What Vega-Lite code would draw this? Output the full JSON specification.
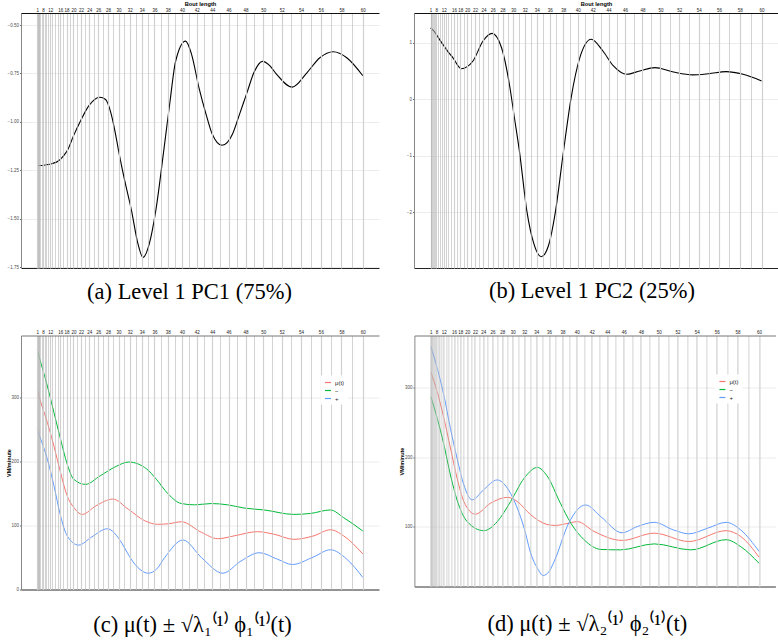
{
  "$schema": "https://vega.github.io/schema/vega-lite/v6.json",
  "padding": 0,
  "background": "white",
  "config": {
    "view": {"stroke": null},
    "font": "Liberation Sans",
    "title": {"font": "Liberation Serif", "fontSize": 22.5, "fontWeight": "normal", "orient": "bottom", "anchor": "middle", "frame": "bounds", "color": "black"},
    "axis": {"labelFont": "Liberation Sans", "titleFont": "Liberation Sans"}
  },
  "datasets": {
    "a": [
      {"t":1,"v":-1.226},{"t":6,"v":-1.226},{"t":10,"v":-1.222},{"t":13,"v":-1.215},{"t":15,"v":-1.205},{"t":17,"v":-1.177},{"t":18.5,"v":-1.14},{"t":20,"v":-1.074},{"t":22,"v":-0.99},{"t":24,"v":-0.914},{"t":26.3,"v":-0.873},{"t":27.5,"v":-0.885},{"t":28.5,"v":-0.95},{"t":29.3,"v":-1.045},{"t":30,"v":-1.15},{"t":31,"v":-1.29},{"t":32.3,"v":-1.46},{"t":33.3,"v":-1.62},{"t":34.2,"v":-1.70},{"t":35.2,"v":-1.63},{"t":36.2,"v":-1.46},{"t":37.4,"v":-1.15},{"t":38.3,"v":-0.90},{"t":39.1,"v":-0.69},{"t":40.5,"v":-0.583},{"t":41.3,"v":-0.65},{"t":42.3,"v":-0.826},{"t":43.2,"v":-0.96},{"t":44,"v":-1.064},{"t":45.2,"v":-1.121},{"t":46.5,"v":-1.06},{"t":47.3,"v":-0.96},{"t":48.1,"v":-0.857},{"t":49,"v":-0.74},{"t":49.9,"v":-0.688},{"t":50.7,"v":-0.71},{"t":51.4,"v":-0.752},{"t":53.1,"v":-0.821},{"t":54.6,"v":-0.747},{"t":55.9,"v":-0.669},{"t":57.2,"v":-0.638},{"t":58.5,"v":-0.669},{"t":60,"v":-0.762}
    ],
    "b": [
      {"t":1,"v":1.26},{"t":6,"v":1.21},{"t":9,"v":1.10},{"t":11.6,"v":0.97},{"t":14,"v":0.83},{"t":15.6,"v":0.735},{"t":18.3,"v":0.54},{"t":21.5,"v":0.676},{"t":23.9,"v":1.03},{"t":25.9,"v":1.166},{"t":27.8,"v":0.91},{"t":29.3,"v":0.26},{"t":30.2,"v":-0.32},{"t":31.1,"v":-0.92},{"t":32.4,"v":-2.0},{"t":33.5,"v":-2.55},{"t":34.7,"v":-2.79},{"t":35.8,"v":-2.6},{"t":36.85,"v":-2.0},{"t":38,"v":-0.95},{"t":39.1,"v":0.02},{"t":40.3,"v":0.735},{"t":41.8,"v":1.06},{"t":43.3,"v":0.853},{"t":44.6,"v":0.588},{"t":46.2,"v":0.44},{"t":47.7,"v":0.5},{"t":49.4,"v":0.558},{"t":51.4,"v":0.48},{"t":53.4,"v":0.43},{"t":55,"v":0.45},{"t":56.7,"v":0.487},{"t":58.3,"v":0.44},{"t":60,"v":0.322}
    ],
    "c": [
      {"s":"μ(t)","t":1,"v":313},{"s":"μ(t)","t":4.4,"v":302.6},{"s":"μ(t)","t":10.6,"v":261},{"s":"μ(t)","t":13.6,"v":224},{"s":"μ(t)","t":16.06,"v":182.6},{"s":"μ(t)","t":18.2,"v":146},{"s":"μ(t)","t":20.1,"v":128},{"s":"μ(t)","t":22.3,"v":117},{"s":"μ(t)","t":25.5,"v":130.5},{"s":"μ(t)","t":28.9,"v":141},{"s":"μ(t)","t":31.75,"v":125},{"s":"μ(t)","t":34.5,"v":107},{"s":"μ(t)","t":36.5,"v":101.5},{"s":"μ(t)","t":38.2,"v":102.5},{"s":"μ(t)","t":39.92,"v":105.5},{"s":"μ(t)","t":42.6,"v":89},{"s":"μ(t)","t":44.68,"v":79},{"s":"μ(t)","t":46.68,"v":83.5},{"s":"μ(t)","t":49.36,"v":90},{"s":"μ(t)","t":51.17,"v":86},{"s":"μ(t)","t":53.27,"v":78},{"s":"μ(t)","t":55.3,"v":83.5},{"s":"μ(t)","t":56.93,"v":93},{"s":"μ(t)","t":58.2,"v":83.5},{"s":"μ(t)","t":60,"v":55},
      {"s":"−","t":1,"v":375},{"s":"−","t":4.4,"v":365},{"s":"−","t":10.6,"v":318},{"s":"−","t":13.6,"v":276.5},{"s":"−","t":16.06,"v":235},{"s":"−","t":18.2,"v":196},{"s":"−","t":20.1,"v":172},{"s":"−","t":23.1,"v":164},{"s":"−","t":26.4,"v":177.5},{"s":"−","t":29.5,"v":192},{"s":"−","t":31.8,"v":199},{"s":"−","t":34.8,"v":188},{"s":"−","t":36.3,"v":172},{"s":"−","t":38.05,"v":149},{"s":"−","t":39.92,"v":134},{"s":"−","t":41.7,"v":132},{"s":"−","t":43.85,"v":134},{"s":"−","t":45.9,"v":132},{"s":"−","t":47.8,"v":127},{"s":"−","t":50.08,"v":124},{"s":"−","t":53.27,"v":117},{"s":"−","t":54.96,"v":118.5},{"s":"−","t":56.93,"v":124},{"s":"−","t":58.2,"v":112},{"s":"−","t":60,"v":91},
      {"s":"+","t":1,"v":251},{"s":"+","t":4.4,"v":243},{"s":"+","t":10.6,"v":203.5},{"s":"+","t":13.6,"v":162},{"s":"+","t":16.06,"v":115},{"s":"+","t":18.2,"v":83.5},{"s":"+","t":21.4,"v":69},{"s":"+","t":24.6,"v":82},{"s":"+","t":27.8,"v":94.5},{"s":"+","t":30.6,"v":72},{"s":"+","t":31.5,"v":58},{"s":"+","t":32.87,"v":39},{"s":"+","t":33.7,"v":31},{"s":"+","t":35.04,"v":25},{"s":"+","t":36.3,"v":31},{"s":"+","t":37.55,"v":49.6},{"s":"+","t":40.15,"v":77},{"s":"+","t":42.6,"v":49.6},{"s":"+","t":45.3,"v":25},{"s":"+","t":47.46,"v":44},{"s":"+","t":49.53,"v":57},{"s":"+","t":51.53,"v":47},{"s":"+","t":53.1,"v":38.6},{"s":"+","t":55.3,"v":50.7},{"s":"+","t":56.93,"v":61.7},{"s":"+","t":58.5,"v":47},{"s":"+","t":60,"v":18.3}
    ],
    "d": [
      {"s":"μ(t)","t":1,"v":322},{"s":"μ(t)","t":8.4,"v":294},{"s":"μ(t)","t":12,"v":256},{"s":"μ(t)","t":14.7,"v":213},{"s":"μ(t)","t":17,"v":169.5},{"s":"μ(t)","t":19.05,"v":136},{"s":"μ(t)","t":22.1,"v":117.7},{"s":"μ(t)","t":25.6,"v":133.5},{"s":"μ(t)","t":29,"v":142},{"s":"μ(t)","t":30.8,"v":136},{"s":"μ(t)","t":33.1,"v":117},{"s":"μ(t)","t":35.7,"v":103},{"s":"μ(t)","t":37,"v":101.5},{"s":"μ(t)","t":38.5,"v":104},{"s":"μ(t)","t":40.1,"v":107},{"s":"μ(t)","t":42.3,"v":93},{"s":"μ(t)","t":45.8,"v":80},{"s":"μ(t)","t":49.5,"v":90.4},{"s":"μ(t)","t":53.2,"v":78.4},{"s":"μ(t)","t":56.9,"v":94},{"s":"μ(t)","t":58.3,"v":85.6},{"s":"μ(t)","t":60,"v":55.8},
      {"s":"−","t":1,"v":287},{"s":"−","t":8.4,"v":256},{"s":"−","t":12,"v":218},{"s":"−","t":14.7,"v":174},{"s":"−","t":17,"v":138},{"s":"−","t":20,"v":107},{"s":"−","t":24.1,"v":94},{"s":"−","t":27,"v":107},{"s":"−","t":29.6,"v":136},{"s":"−","t":32,"v":169.5},{"s":"−","t":34.2,"v":185},{"s":"−","t":35.7,"v":173},{"s":"−","t":37.7,"v":133.5},{"s":"−","t":39.2,"v":104.7},{"s":"−","t":41,"v":81},{"s":"−","t":43.2,"v":67},{"s":"−","t":45.6,"v":66.4},{"s":"−","t":49.5,"v":75},{"s":"−","t":53.4,"v":66.4},{"s":"−","t":56.9,"v":81},{"s":"−","t":58.3,"v":71},{"s":"−","t":60,"v":47},
      {"s":"+","t":1,"v":359},{"s":"+","t":8.4,"v":328},{"s":"+","t":12,"v":289},{"s":"+","t":14.7,"v":241},{"s":"+","t":17,"v":198},{"s":"+","t":19.05,"v":160},{"s":"+","t":21.3,"v":138.4},{"s":"+","t":24.1,"v":153},{"s":"+","t":27,"v":167},{"s":"+","t":29,"v":155},{"s":"+","t":30.2,"v":138},{"s":"+","t":32,"v":97.6},{"s":"+","t":33.2,"v":59},{"s":"+","t":34.2,"v":40},{"s":"+","t":35.1,"v":29.5},{"s":"+","t":36,"v":35},{"s":"+","t":36.8,"v":50},{"s":"+","t":38.9,"v":105},{"s":"+","t":41.2,"v":131},{"s":"+","t":43.2,"v":114},{"s":"+","t":45.8,"v":91},{"s":"+","t":47.6,"v":100},{"s":"+","t":49.5,"v":106},{"s":"+","t":51.6,"v":95},{"s":"+","t":53.2,"v":89.5},{"s":"+","t":55.1,"v":97.6},{"s":"+","t":56.9,"v":106},{"s":"+","t":58.3,"v":95},{"s":"+","t":60,"v":64}
    ]
  },
  "spacing": 24.5,
  "vconcat": [
    {
      "spacing": 27,
      "hconcat": [
        {
          "width": 358, "height": 255,
          "title": {"text": "(a) Level 1 PC1 (75%)", "offset": 12},
          "data": {"name": "a"},
          "layer": [
            {
              "mark": {"type": "line", "color": "black", "strokeWidth": 1.1, "interpolate": "monotone"},
              "encoding": {
                "x": {"field": "t", "type": "quantitative",
                  "scale": {"type": "pow", "exponent": 2, "domain": [-13.38, 61.47], "nice": false, "zero": false},
                  "axis": {"orient": "top", "values": [1,2,3,4,5,6,7,8,9,10,11,12,13,14,15,16,17,18,19,20,21,22,23,24,25,26,27,28,29,30,31,32,33,34,35,36,37,38,39,40,41,42,43,44,45,46,47,48,49,50,51,52,53,54,55,56,57,58,59,60],
                    "format": "d",
                    "labelExpr": "(datum.value >= 16 ? datum.value % 2 === 0 : (datum.value === 1 || datum.value === 8 || datum.value === 12)) ? datum.label : ''",
                    "labelOverlap": false, "labelFlush": false, "labelFontSize": 4.5, "labelColor": "#222", "labelPadding": 1,
                    "ticks": false, "grid": true,
                    "gridColor": {"condition": {"test": "datum.value >= 16 ? datum.value % 2 === 0 : (datum.value === 1 || datum.value === 8 || datum.value === 12)", "value": "#d0d0d0"}, "value": "#b5b5b5"},
                    "gridWidth": {"condition": {"test": "datum.value >= 16 ? datum.value % 2 === 0 : (datum.value === 1 || datum.value === 8 || datum.value === 12)", "value": 1.2}, "value": 0.6},
                    "domainColor": "#111", "domainWidth": 1,
                    "title": "Bout length", "titleFontSize": 5.7, "titleFontWeight": "bold", "titlePadding": 1, "titleColor": "black",
                    "zindex": 1}},
                "y": {"field": "v", "type": "quantitative",
                  "scale": {"domain": [-1.755, -0.438], "nice": false, "zero": false},
                  "axis": {"values": [-1.75,-1.5,-1.25,-1,-0.75,-0.5], "format": ".2f", "labelFontSize": 4.5, "labelColor": "#4d4d4d", "tickSize": 1.5, "tickColor": "#666", "labelPadding": 1, "domainColor": "#888", "grid": true, "gridColor": "#ececec", "title": null, "minExtent": 21, "maxExtent": 21}}
              }
            },
            {
              "mark": {"type": "point", "opacity": 0, "strokeOpacity": 0, "fillOpacity": 0},
              "encoding": {
                "x": {"field": "t", "type": "quantitative",
                  "scale": {"type": "pow", "exponent": 2, "domain": [-13.38, 61.47], "nice": false, "zero": false},
                  "axis": {"orient": "bottom", "labels": false, "ticks": false, "grid": false, "domainColor": "#222", "domainWidth": 1, "title": null}}
              }
            }
          ]
        },
        {
          "width": 364, "height": 255,
          "title": {"text": "(b) Level 1 PC2 (25%)", "offset": 12},
          "data": {"name": "b"},
          "layer": [
            {
              "mark": {"type": "line", "color": "black", "strokeWidth": 1.1, "interpolate": "monotone"},
              "encoding": {
                "x": {"field": "t", "type": "quantitative",
                  "scale": {"type": "pow", "exponent": 2, "domain": [-13.38, 61.47], "nice": false, "zero": false},
                  "axis": {"orient": "top", "values": [1,2,3,4,5,6,7,8,9,10,11,12,13,14,15,16,17,18,19,20,21,22,23,24,25,26,27,28,29,30,31,32,33,34,35,36,37,38,39,40,41,42,43,44,45,46,47,48,49,50,51,52,53,54,55,56,57,58,59,60],
                    "format": "d",
                    "labelExpr": "(datum.value >= 16 ? datum.value % 2 === 0 : (datum.value === 1 || datum.value === 8 || datum.value === 12)) ? datum.label : ''",
                    "labelOverlap": false, "labelFlush": false, "labelFontSize": 4.5, "labelColor": "#222", "labelPadding": 1,
                    "ticks": false, "grid": true,
                    "gridColor": {"condition": {"test": "datum.value >= 16 ? datum.value % 2 === 0 : (datum.value === 1 || datum.value === 8 || datum.value === 12)", "value": "#d0d0d0"}, "value": "#b5b5b5"},
                    "gridWidth": {"condition": {"test": "datum.value >= 16 ? datum.value % 2 === 0 : (datum.value === 1 || datum.value === 8 || datum.value === 12)", "value": 1.2}, "value": 0.6},
                    "domainColor": "#111", "domainWidth": 1,
                    "title": "Bout length", "titleFontSize": 5.7, "titleFontWeight": "bold", "titlePadding": 1, "titleColor": "black",
                    "zindex": 1}},
                "y": {"field": "v", "type": "quantitative",
                  "scale": {"domain": [-2.99, 1.526], "nice": false, "zero": false},
                  "axis": {"values": [-2,-1,0,1], "format": "d", "labelFontSize": 4.5, "labelColor": "#4d4d4d", "tickSize": 1.5, "tickColor": "#666", "labelPadding": 1, "domainColor": "#888", "grid": true, "gridColor": "#ececec", "title": null, "minExtent": 8, "maxExtent": 8}}
              }
            },
            {
              "mark": {"type": "point", "opacity": 0, "strokeOpacity": 0, "fillOpacity": 0},
              "encoding": {
                "x": {"field": "t", "type": "quantitative",
                  "scale": {"type": "pow", "exponent": 2, "domain": [-13.38, 61.47], "nice": false, "zero": false},
                  "axis": {"orient": "bottom", "labels": false, "ticks": false, "grid": false, "domainColor": "#222", "domainWidth": 1, "title": null}}
              }
            }
          ]
        }
      ]
    },
    {
      "spacing": 20.4,
      "resolve": {"legend": {"color": "independent"}},
      "hconcat": [
        {
          "width": 358, "height": 254,
          "title": {"text": "(c) μ(t) ± √λ₁⁽¹⁾ ϕ₁⁽¹⁾(t)", "offset": 23},
          "data": {"name": "c"},
          "layer": [
            {
              "mark": {"type": "line", "strokeWidth": 1, "interpolate": "monotone"},
              "encoding": {
                "x": {"field": "t", "type": "quantitative",
                  "scale": {"type": "pow", "exponent": 2, "domain": [-13.38, 61.47], "nice": false, "zero": false},
                  "axis": {"orient": "top", "values": [1,2,3,4,5,6,7,8,9,10,11,12,13,14,15,16,17,18,19,20,21,22,23,24,25,26,27,28,29,30,31,32,33,34,35,36,37,38,39,40,41,42,43,44,45,46,47,48,49,50,51,52,53,54,55,56,57,58,59,60],
                    "format": "d",
                    "labelExpr": "(datum.value >= 16 ? datum.value % 2 === 0 : (datum.value === 1 || datum.value === 8 || datum.value === 12)) ? datum.label : ''",
                    "labelOverlap": false, "labelFlush": false, "labelFontSize": 4.5, "labelColor": "#222", "labelPadding": 1.5,
                    "ticks": false, "grid": true,
                    "gridColor": {"condition": {"test": "datum.value >= 16 ? datum.value % 2 === 0 : (datum.value === 1 || datum.value === 8 || datum.value === 12)", "value": "#d0d0d0"}, "value": "#b5b5b5"},
                    "gridWidth": {"condition": {"test": "datum.value >= 16 ? datum.value % 2 === 0 : (datum.value === 1 || datum.value === 8 || datum.value === 12)", "value": 1.2}, "value": 0.6},
                    "domainColor": "#777", "domainWidth": 1,
                    "title": null,
                    "zindex": 1}},
                "y": {"field": "v", "type": "quantitative",
                  "scale": {"domain": [-0.5, 397], "nice": false, "zero": false},
                  "axis": {"values": [0,100,200,300], "format": "d", "labelFontSize": 4.5, "labelColor": "#4d4d4d", "tickSize": 1.5, "tickColor": "#666", "labelPadding": 1, "domainColor": "#888", "grid": true, "gridColor": "#ececec", "title": "VM/minute", "titleFontSize": 5.5, "titleFontWeight": "bold", "titleColor": "black", "titlePadding": 2, "minExtent": 8, "maxExtent": 8}},
                "color": {"field": "s", "type": "nominal",
                  "scale": {"domain": ["μ(t)", "−", "+"], "range": ["#F8766D", "#00BA38", "#619CFF"]},
                  "legend": {"orient": "none", "legendX": 300, "legendY": 40, "zindex": 2, "title": null, "labelFontSize": 6, "labelColor": "#222", "symbolType": "stroke", "symbolStrokeWidth": 1.2, "symbolSize": 36, "rowPadding": 1, "padding": 3, "fillColor": "white", "labelOffset": 3}}
              }
            },
            {
              "mark": {"type": "point", "opacity": 0, "strokeOpacity": 0, "fillOpacity": 0},
              "encoding": {
                "x": {"field": "t", "type": "quantitative",
                  "scale": {"type": "pow", "exponent": 2, "domain": [-13.38, 61.47], "nice": false, "zero": false},
                  "axis": {"orient": "bottom", "labels": false, "ticks": false, "grid": false, "domainColor": "#333", "domainWidth": 1, "title": null}}
              }
            }
          ]
        },
        {
          "width": 361, "height": 251,
          "title": {"text": "(d) μ(t) ± √λ₂⁽¹⁾ ϕ₂⁽¹⁾(t)", "offset": 26},
          "data": {"name": "d"},
          "layer": [
            {
              "mark": {"type": "line", "strokeWidth": 1, "interpolate": "monotone"},
              "encoding": {
                "x": {"field": "t", "type": "quantitative",
                  "scale": {"type": "pow", "exponent": 2, "domain": [-13.38, 61.47], "nice": false, "zero": false},
                  "axis": {"orient": "top", "values": [1,2,3,4,5,6,7,8,9,10,11,12,13,14,15,16,17,18,19,20,21,22,23,24,25,26,27,28,29,30,31,32,33,34,35,36,37,38,39,40,41,42,43,44,45,46,47,48,49,50,51,52,53,54,55,56,57,58,59,60],
                    "format": "d",
                    "labelExpr": "(datum.value >= 16 ? datum.value % 2 === 0 : (datum.value === 1 || datum.value === 8 || datum.value === 12)) ? datum.label : ''",
                    "labelOverlap": false, "labelFlush": false, "labelFontSize": 4.5, "labelColor": "#222", "labelPadding": 1.5,
                    "ticks": false, "grid": true,
                    "gridColor": {"condition": {"test": "datum.value >= 16 ? datum.value % 2 === 0 : (datum.value === 1 || datum.value === 8 || datum.value === 12)", "value": "#d0d0d0"}, "value": "#b5b5b5"},
                    "gridWidth": {"condition": {"test": "datum.value >= 16 ? datum.value % 2 === 0 : (datum.value === 1 || datum.value === 8 || datum.value === 12)", "value": 1.2}, "value": 0.6},
                    "domainColor": "#777", "domainWidth": 1,
                    "title": null,
                    "zindex": 1}},
                "y": {"field": "v", "type": "quantitative",
                  "scale": {"domain": [13.7, 374.8], "nice": false, "zero": false},
                  "axis": {"values": [100,200,300], "format": "d", "labelFontSize": 4.5, "labelColor": "#4d4d4d", "tickSize": 1.5, "tickColor": "#666", "labelPadding": 1, "domainColor": "#888", "grid": true, "gridColor": "#ececec", "title": "VM/minute", "titleFontSize": 5.5, "titleFontWeight": "bold", "titleColor": "black", "titlePadding": 2, "minExtent": 8, "maxExtent": 8}},
                "color": {"field": "s", "type": "nominal",
                  "scale": {"domain": ["μ(t)", "−", "+"], "range": ["#F8766D", "#00BA38", "#619CFF"]},
                  "legend": {"orient": "none", "legendX": 301, "legendY": 39, "zindex": 2, "title": null, "labelFontSize": 6, "labelColor": "#222", "symbolType": "stroke", "symbolStrokeWidth": 1.2, "symbolSize": 36, "rowPadding": 1, "padding": 3, "fillColor": "white", "labelOffset": 3}}
              }
            },
            {
              "mark": {"type": "point", "opacity": 0, "strokeOpacity": 0, "fillOpacity": 0},
              "encoding": {
                "x": {"field": "t", "type": "quantitative",
                  "scale": {"type": "pow", "exponent": 2, "domain": [-13.38, 61.47], "nice": false, "zero": false},
                  "axis": {"orient": "bottom", "labels": false, "ticks": false, "grid": false, "domainColor": "#333", "domainWidth": 1, "title": null}}
              }
            }
          ]
        }
      ]
    }
  ]
}
